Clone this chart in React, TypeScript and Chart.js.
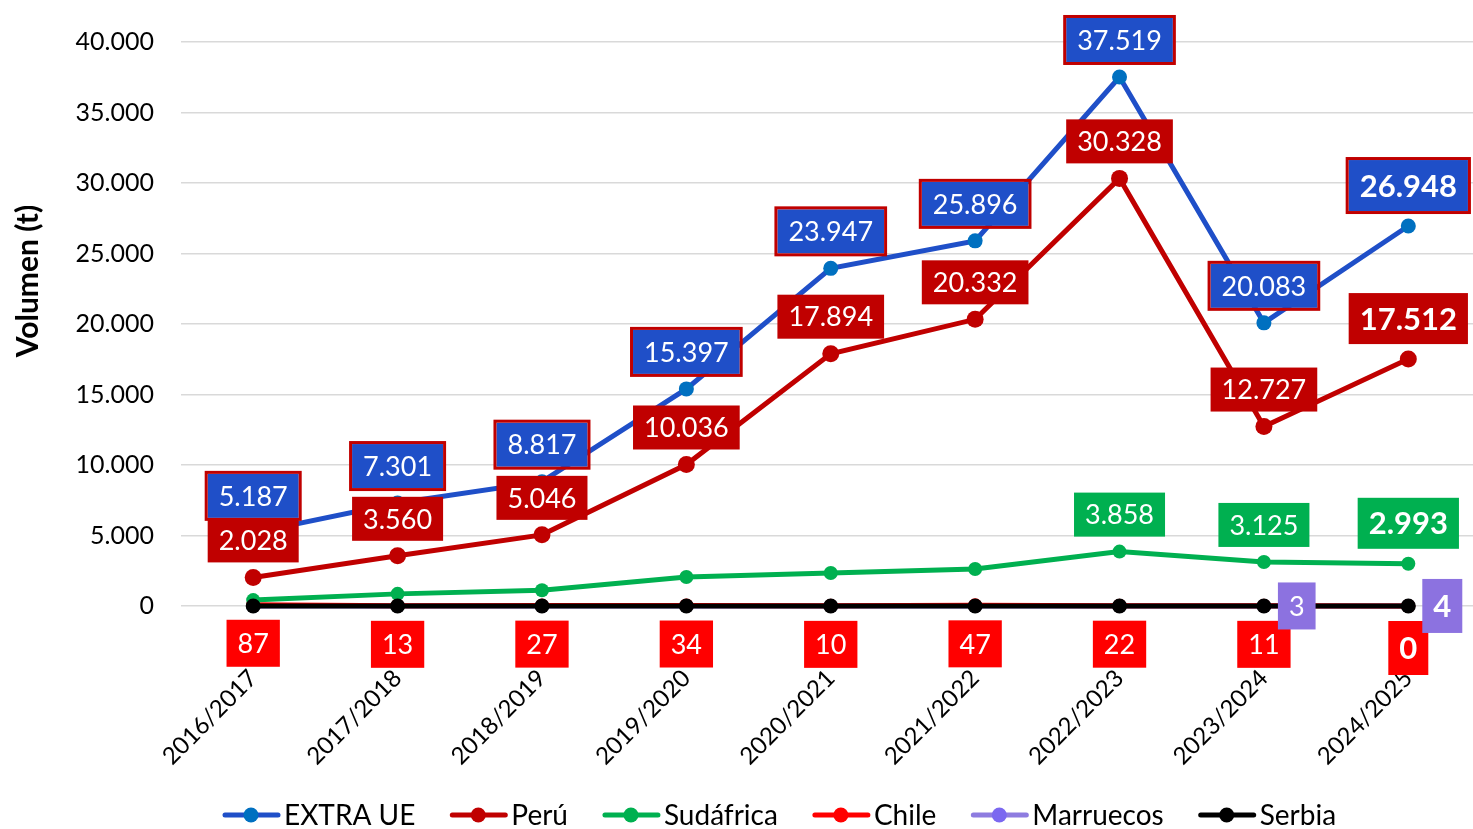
import React, { useEffect, useRef } from "react";
import { Chart, registerables } from "chart.js";

Chart.register(...registerables);

const categories = [
  "2016/2017",
  "2017/2018",
  "2018/2019",
  "2019/2020",
  "2020/2021",
  "2021/2022",
  "2022/2023",
  "2023/2024",
  "2024/2025",
];
const extraUE = [5187, 7301, 8817, 15397, 23947, 25896, 37519, 20083, 26948];
const peru = [2028, 3560, 5046, 10036, 17894, 20332, 30328, 12727, 17512];
const sudafrica = [420, 860, 1120, 2060, 2340, 2620, 3858, 3125, 2993];
const chile = [87, 13, 27, 34, 10, 47, 22, 11, 0];
const marruecos = [0, 0, 0, 0, 0, 0, 0, 3, 4];
const serbia = [0, 0, 0, 0, 0, 0, 0, 0, 0];

const yMin = 0;
const yMax = 40000;
const yStep = 5000;
const yTitle = "Volumen (t)";

const FONT = "Lato, 'Open Sans', sans-serif";

const fmt = (v: number) =>
  String(Math.round(v)).replace(/\B(?=(\d{3})+(?!\d))/g, ".");

const allIdx = categories.map((_, i) => i);

const labelPlugin = {
  id: "boxLabels",
  afterDatasetsDraw(chart: any) {
    const ctx = chart.ctx;
    chart.data.datasets.forEach((ds: any, di: number) => {
      const cfg = ds.labelCfg;
      if (!cfg) return;
      const meta = chart.getDatasetMeta(di);
      meta.data.forEach((pt: any, i: number) => {
        if (!cfg.show.includes(i)) return;
        const v = ds.data[i];
        const bold = i === ds.data.length - 1;
        const fs = bold ? 31 : 27;
        ctx.save();
        ctx.font = `${bold ? "bold " : ""}${fs}px ${FONT}`;
        const text = fmt(v);
        const tw = ctx.measureText(text).width;
        const w = tw + 22;
        let h = bold ? 51 : 44;
        if (cfg.pos !== "top") h += 3;
        let x: number, y: number;
        if (cfg.pos === "top") {
          x = pt.x - w / 2;
          y = pt.y - 15 - h;
        } else if (cfg.pos === "bottom") {
          x = pt.x - w / 2;
          y = pt.y + 15;
        } else {
          x = pt.x + 14;
          y = pt.y - h / 2;
        }
        ctx.fillStyle = cfg.bg;
        ctx.fillRect(x, y, w, h);
        if (cfg.border) {
          ctx.strokeStyle = cfg.border;
          ctx.lineWidth = 3;
          ctx.strokeRect(x - 1.5, y - 1.5, w + 3, h + 3);
        }
        ctx.fillStyle = "#ffffff";
        ctx.textAlign = "center";
        ctx.textBaseline = "middle";
        ctx.fillText(text, x + w / 2, y + h / 2 + 1);
        ctx.restore();
      });
    });
  },
};

const decorPlugin = {
  id: "decor",
  afterDraw(chart: any) {
    const ctx = chart.ctx;
    // y-axis title
    ctx.save();
    ctx.translate(28, 281);
    ctx.rotate(-Math.PI / 2);
    ctx.font = `bold 30px ${FONT}`;
    ctx.fillStyle = "#000";
    ctx.textAlign = "center";
    ctx.textBaseline = "middle";
    ctx.fillText(yTitle, 0, 0);
    ctx.restore();

    // legend
    ctx.save();
    ctx.font = `28px ${FONT}`;
    ctx.textBaseline = "middle";
    ctx.textAlign = "left";
    let x = 223;
    const y = 815;
    chart.data.datasets.forEach((ds: any) => {
      ctx.strokeStyle = ds.legendLine || ds.borderColor;
      ctx.lineWidth = 5;
      ctx.lineCap = "round";
      ctx.beginPath();
      ctx.moveTo(x + 2, y);
      ctx.lineTo(x + 55, y);
      ctx.stroke();
      ctx.fillStyle = ds.pointBackgroundColor;
      ctx.beginPath();
      ctx.arc(x + 28, y, 7.5, 0, Math.PI * 2);
      ctx.fill();
      ctx.fillStyle = "#000";
      ctx.fillText(ds.label, x + 61, y + 1);
      x += 61 + ctx.measureText(ds.label).width + 35;
    });
    ctx.restore();
  },
};

export default function App() {
  const ref = useRef<HTMLCanvasElement | null>(null);

  useEffect(() => {
    if (!ref.current) return;
    const line = (
      label: string,
      data: number[],
      color: string,
      pointColor: string,
      radius: number,
      order: number,
      labelCfg: any,
      legendLine?: string
    ) => ({
      label,
      data,
      borderColor: color,
      backgroundColor: pointColor,
      pointBackgroundColor: pointColor,
      pointBorderColor: pointColor,
      pointRadius: radius,
      pointBorderWidth: 0,
      borderWidth: 5,
      tension: 0,
      clip: false,
      order,
      labelCfg,
      legendLine,
    });

    const chart = new Chart(ref.current, {
      type: "line",
      data: {
        labels: categories,
        datasets: [
          line("EXTRA UE", extraUE, "#1F4FC8", "#0070C0", 7.5, 0, {
            show: allIdx,
            pos: "top",
            bg: "#1F4FC8",
            border: "#C00000",
          }),
          line("Perú", peru, "#C00000", "#C00000", 8.5, 1, {
            show: allIdx,
            pos: "top",
            bg: "#C00000",
          }),
          line("Sudáfrica", sudafrica, "#00B050", "#00B050", 7, 2, {
            show: [6, 7, 8],
            pos: "top",
            bg: "#00B050",
          }),
          line("Chile", chile, "#FF0000", "#FF0000", 7, 3, {
            show: allIdx,
            pos: "bottom",
            bg: "#FF0000",
          }),
          line(
            "Marruecos",
            marruecos,
            "#8E7CE0",
            "#7B68F0",
            7,
            4,
            { show: [7, 8], pos: "right", bg: "#8C72E0" },
            "#8E7CE0"
          ),
          line("Serbia", serbia, "#000000", "#000000", 7.5, -1, null),
        ] as any,
      },
      options: {
        responsive: false,
        animation: false,
        devicePixelRatio: 1,
        layout: { padding: { top: 42, bottom: 0, left: 0, right: 0 } },
        plugins: {
          legend: { display: false },
          tooltip: { enabled: false },
          title: { display: false },
        },
        scales: {
          x: {
            offset: true,
            grid: { display: false, offset: true },
            border: { display: false },
            ticks: {
              maxRotation: 45,
              minRotation: 45,
              padding: 50,
              color: "#000",
              font: { family: FONT, size: 24 },
            },
            afterFit: (s: any) => {
              s.height = 223;
              s.paddingLeft = 0;
              s.paddingRight = 0;
            },
          },
          y: {
            min: yMin,
            max: yMax,
            border: { display: false },
            grid: { color: "#D9D9D9", lineWidth: 1.5, drawTicks: false },
            ticks: {
              stepSize: yStep,
              padding: 27,
              color: "#000",
              font: { family: FONT, size: 25 },
              callback: (v: any) => fmt(Number(v)),
            },
            afterFit: (s: any) => {
              s.width = 181;
            },
          },
        },
      } as any,
      plugins: [labelPlugin, decorPlugin],
    });
    return () => chart.destroy();
  }, []);

  return (
    <div
      style={{
        position: "absolute",
        left: 0,
        top: 0,
        width: 1473,
        height: 829,
        overflow: "hidden",
        background: "#fff",
      }}
    >
      <canvas
        ref={ref}
        width={1489}
        height={829}
        style={{ width: 1489, height: 829, display: "block" }}
      />
    </div>
  );
}
